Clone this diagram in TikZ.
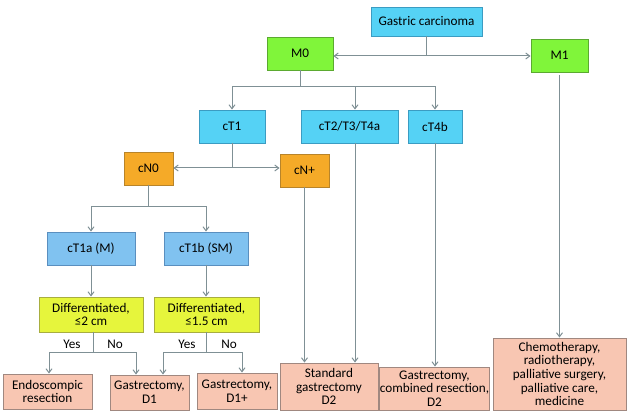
\documentclass[tikz,border=0pt]{standalone}
\usepackage{fontspec}
\setmainfont{Carlito}
\usetikzlibrary{arrows.meta}
\definecolor{cyanf}{HTML}{55D2F5}
\definecolor{cyand}{HTML}{3B9CC2}
\definecolor{bluef}{HTML}{80C2F0}
\definecolor{blued}{HTML}{5A8FBF}
\definecolor{greenf}{HTML}{80F53A}
\definecolor{greend}{HTML}{5BAA30}
\definecolor{orangef}{HTML}{F5AA28}
\definecolor{oranged}{HTML}{B8842A}
\definecolor{yellowf}{HTML}{E6F53C}
\definecolor{yellowd}{HTML}{A8AE40}
\definecolor{salmonf}{HTML}{F8C6B2}
\definecolor{salmond}{HTML}{A08880}
\definecolor{linec}{HTML}{7F9095}
\tikzset{
  box/.style={draw, line width=0.9pt, inner sep=0pt, align=center, font=\fontsize{13.2}{13.6}\selectfont, text=black},
  cyanbox/.style={box, fill=cyanf, draw=cyand},
  bluebox/.style={box, fill=bluef, draw=blued},
  greenbox/.style={box, fill=greenf, draw=greend},
  orangebox/.style={box, fill=orangef, draw=oranged},
  yellowbox/.style={box, fill=yellowf, draw=yellowd},
  salmonbox/.style={box, fill=salmonf, draw=salmond},
  conn/.style={draw=linec, line width=1pt},
  arr/.style={conn, -{Straight Barb[length=4pt,width=6pt]}},
  lab/.style={font=\fontsize{13.2}{13.6}\selectfont, text=black}
}
\begin{document}
\begin{tikzpicture}[x=1pt,y=-1pt]
\useasboundingbox (0,0) rectangle (630,417);
% nodes
\node[cyanbox, minimum width=111pt, minimum height=29pt] (gc) at (426.5,21.5) {Gastric carcinoma};
\node[greenbox, minimum width=66pt, minimum height=33pt] (m0) at (300,53.5) {M0};
\node[greenbox, minimum width=57pt, minimum height=33pt] (m1) at (559.5,55.5) {M1};
\node[cyanbox, minimum width=66pt, minimum height=33pt] (ct1) at (232,126.5) {cT1};
\node[cyanbox, minimum width=97pt, minimum height=33pt] (ct2) at (349.5,126.5) {cT2/T3/T4a};
\node[cyanbox, minimum width=54pt, minimum height=33pt] (ct4b) at (435,126.5) {cT4b};
\node[orangebox, minimum width=49pt, minimum height=33pt] (cn0) at (148.5,168.5) {cN0};
\node[orangebox, minimum width=49pt, minimum height=33pt] (cnp) at (304.5,170.5) {cN+};
\node[bluebox, minimum width=88pt, minimum height=33pt] (ct1a) at (91,248.5) {cT1a (M)};
\node[bluebox, minimum width=84pt, minimum height=33pt] (ct1b) at (206,248.5) {cT1b (SM)};
\node[yellowbox, minimum width=104pt, minimum height=35pt] (d1) at (91,314.5) {Differentiated,\\\symbol{"2264}2 cm};
\node[yellowbox, minimum width=105pt, minimum height=35pt] (d2) at (206.5,314.5) {Differentiated,\\\symbol{"2264}1.5 cm};
\node[salmonbox, minimum width=89pt, minimum height=35pt] (endo) at (47.5,391.5) {Endoscompic\\resection};
\node[salmonbox, minimum width=79pt, minimum height=35pt] (gd1) at (149.5,392.5) {Gastrectomy,\\D1};
\node[salmonbox, minimum width=80pt, minimum height=36pt] (gd1p) at (237,391) {Gastrectomy,\\D1+};
\node[salmonbox, minimum width=98pt, minimum height=47pt] (std) at (329,386.5) {Standard\\gastrectomy\\D2};
\node[salmonbox, minimum width=107pt, minimum height=43pt] (comb) at (434.5,388.5) {Gastrectomy,\\combined resection,\\D2};
\node[salmonbox, minimum width=133pt, minimum height=72pt] (chemo) at (559.5,374) {Chemotherapy,\\radiotherapy,\\palliative surgery,\\palliative care,\\medicine};
% junction coordinates
\coordinate (j0) at (426.5,56);
\coordinate (j1) at (300,87);
\coordinate (j2) at (232,168);
\coordinate (j3) at (148.5,207);
\coordinate (j4) at (93,352);
\coordinate (j5) at (206.5,352);
\coordinate (ct2x) at (355,0);
\coordinate (m1x) at (559.5,75);
% connectors
\draw[conn] (gc.south) -- (j0);
\draw[arr] (j0) -- (m0.east |- j0);
\draw[arr] (j0) -- (m1.west |- j0);
\draw[conn] (m0.south) -- (j1);
\draw[arr] (j1) -| (ct1.north);
\draw[arr] (j1) -| (ct2x |- ct2.north);
\draw[arr] (j1) -| (ct4b.north);
\draw[conn] (ct1.south) -- (j2);
\draw[arr] (j2) -- (cn0.east |- j2);
\draw[arr] (j2) -- (cnp.west |- j2);
\draw[conn] (cn0.south) -- (j3);
\draw[arr] (j3) -| (ct1a.north);
\draw[arr] (j3) -| (ct1b.north);
\draw[arr] (ct1a.south) -- (d1.north);
\draw[arr] (ct1b.south) -- (d2.north -| ct1b.south);
\draw[conn] (d1.south -| j4) -- (j4);
\draw[arr] (j4) -| ([xshift=-13.5pt]gd1.north);
\draw[arr] (j4) -| ([xshift=1.5pt]endo.north);
\draw[conn] (d2.south) -- (j5);
\draw[arr] (j5) -| ([xshift=13.5pt]gd1.north);
\draw[arr] (j5) -| ([xshift=5pt]gd1p.north);
\draw[arr] (cnp.south) -- (std.north -| cnp.south);
\draw[arr] (ct2x |- ct2.south) -- (ct2x |- std.north);
\draw[arr] (ct4b.south) -- (comb.north -| ct4b.south);
\draw[arr] (m1x) -- (chemo.north -| m1x);
% labels
\node[lab] (yes1) at (72,344) {Yes};
\node[lab] (no1) at (115,344) {No};
\node[lab] (yes2) at (187,344) {Yes};
\node[lab] (no2) at (229,344) {No};
\end{tikzpicture}
\end{document}
